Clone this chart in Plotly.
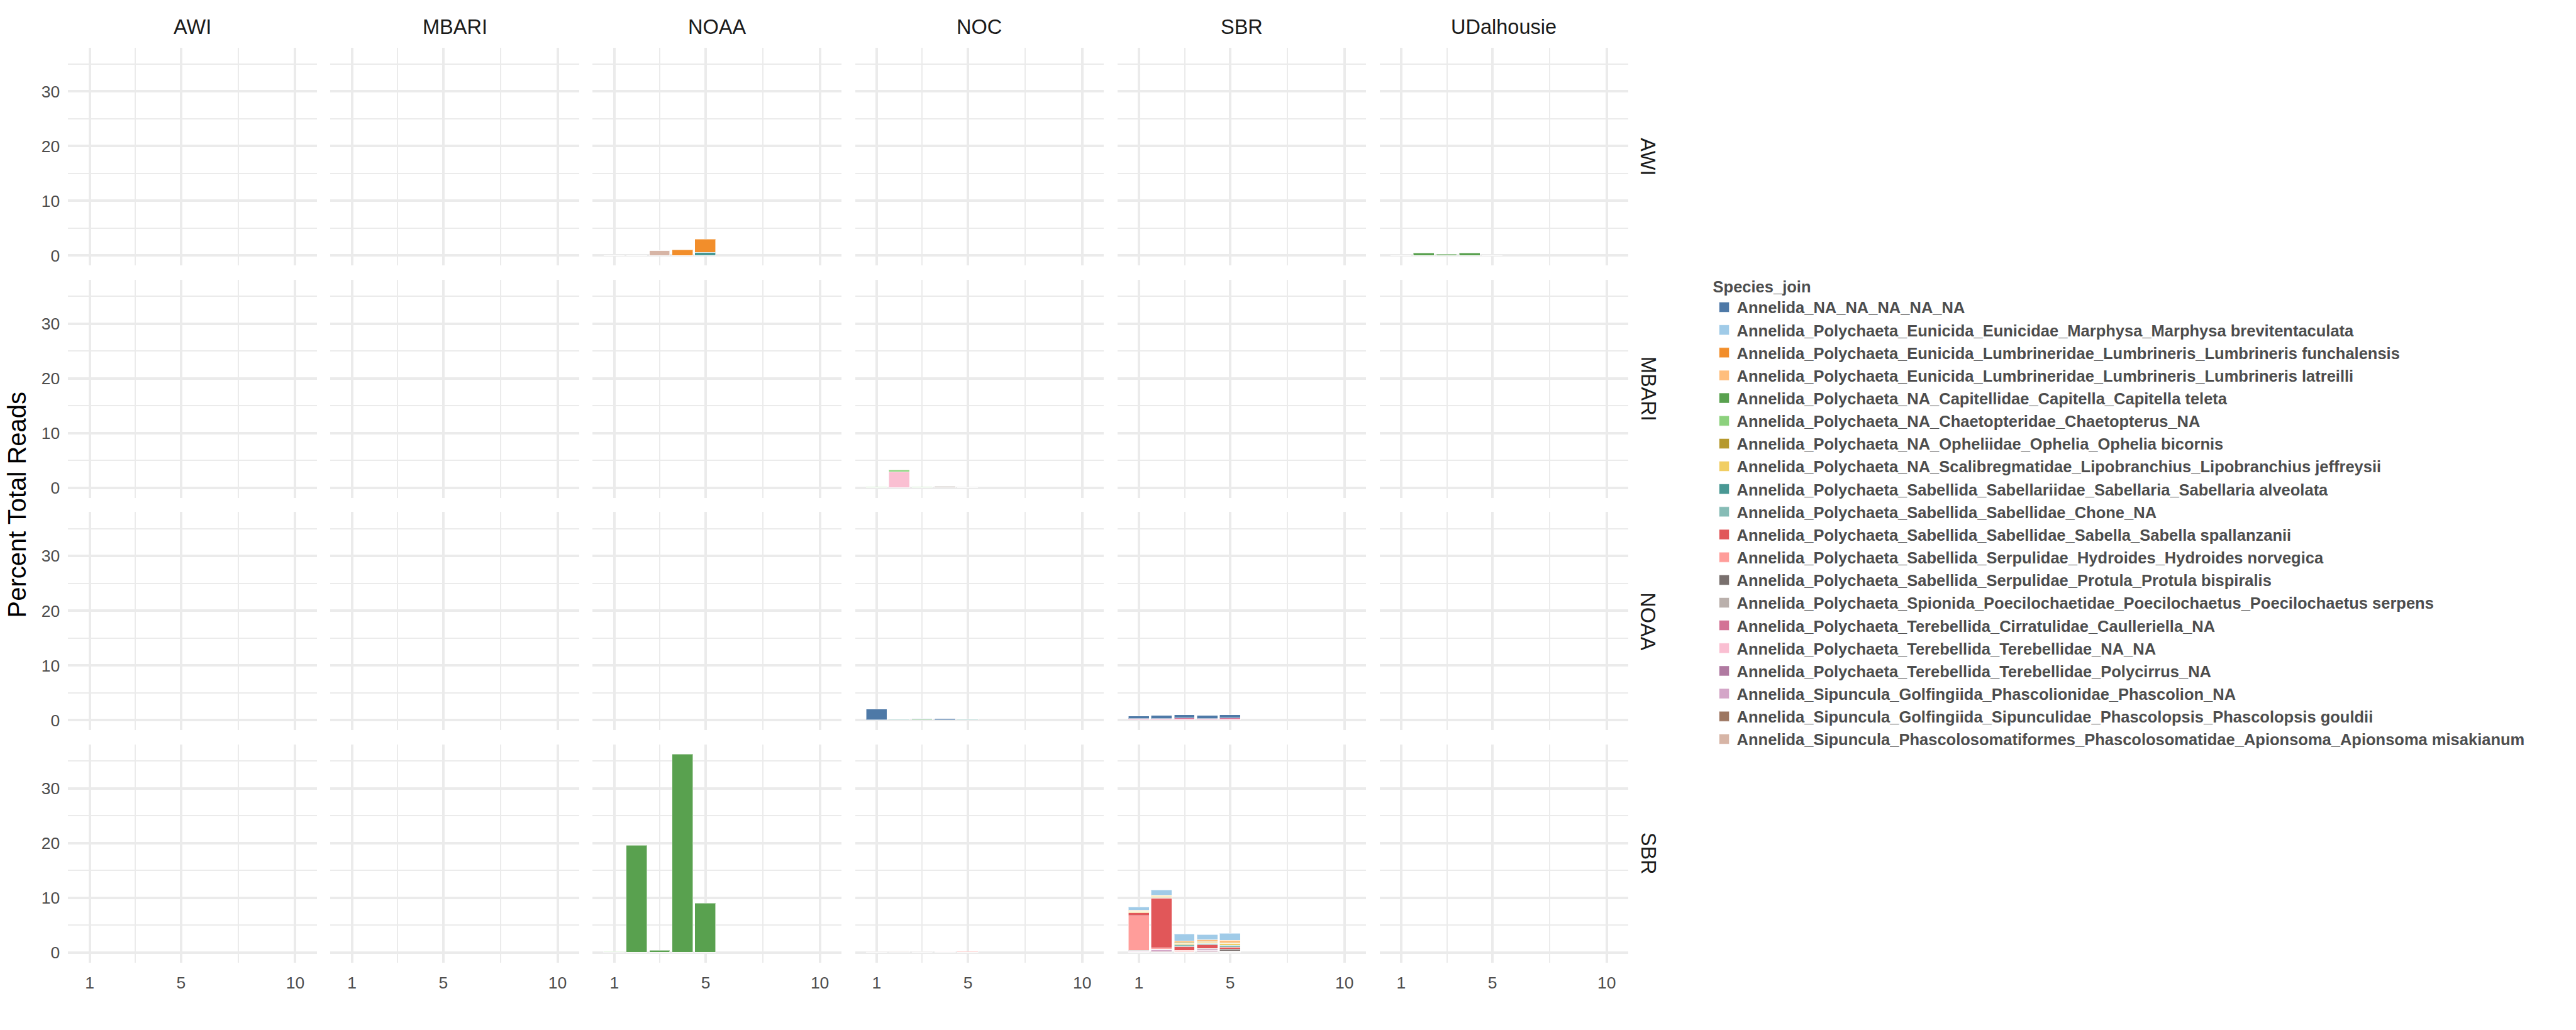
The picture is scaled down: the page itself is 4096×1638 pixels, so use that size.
import plotly.graph_objects as go

# ---------------- data ----------------
species = [
    "Annelida_NA_NA_NA_NA_NA",
    "Annelida_Polychaeta_Eunicida_Eunicidae_Marphysa_Marphysa brevitentaculata",
    "Annelida_Polychaeta_Eunicida_Lumbrineridae_Lumbrineris_Lumbrineris funchalensis",
    "Annelida_Polychaeta_Eunicida_Lumbrineridae_Lumbrineris_Lumbrineris latreilli",
    "Annelida_Polychaeta_NA_Capitellidae_Capitella_Capitella teleta",
    "Annelida_Polychaeta_NA_Chaetopteridae_Chaetopterus_NA",
    "Annelida_Polychaeta_NA_Opheliidae_Ophelia_Ophelia bicornis",
    "Annelida_Polychaeta_NA_Scalibregmatidae_Lipobranchius_Lipobranchius jeffreysii",
    "Annelida_Polychaeta_Sabellida_Sabellariidae_Sabellaria_Sabellaria alveolata",
    "Annelida_Polychaeta_Sabellida_Sabellidae_Chone_NA",
    "Annelida_Polychaeta_Sabellida_Sabellidae_Sabella_Sabella spallanzanii",
    "Annelida_Polychaeta_Sabellida_Serpulidae_Hydroides_Hydroides norvegica",
    "Annelida_Polychaeta_Sabellida_Serpulidae_Protula_Protula bispiralis",
    "Annelida_Polychaeta_Spionida_Poecilochaetidae_Poecilochaetus_Poecilochaetus serpens",
    "Annelida_Polychaeta_Terebellida_Cirratulidae_Caulleriella_NA",
    "Annelida_Polychaeta_Terebellida_Terebellidae_NA_NA",
    "Annelida_Polychaeta_Terebellida_Terebellidae_Polycirrus_NA",
    "Annelida_Sipuncula_Golfingiida_Phascolionidae_Phascolion_NA",
    "Annelida_Sipuncula_Golfingiida_Sipunculidae_Phascolopsis_Phascolopsis gouldii",
    "Annelida_Sipuncula_Phascolosomatiformes_Phascolosomatidae_Apionsoma_Apionsoma misakianum",
]
colors = [
    "#4E79A7", "#A0CBE8", "#F28E2B", "#FFBE7D", "#59A14F",
    "#8CD17D", "#B6992D", "#F1CE63", "#499894", "#86BCB6",
    "#E15759", "#FF9D9A", "#79706E", "#BAB0AC", "#D37295",
    "#FABFD2", "#B07AA1", "#D4A6C8", "#9D7660", "#D7B5A6",
]
col_sites = ["AWI", "MBARI", "NOAA", "NOC", "SBR", "UDalhousie"]
row_sites = ["AWI", "MBARI", "NOAA", "SBR"]
samples = [1, 2, 3, 4, 5]
x_breaks = [1, 5, 10]
x_minor = [3, 7.5]
x_limits = [1, 10]
y_breaks = [0, 10, 20, 30]
y_minor = [5, 15, 25, 35]

# panel values: species index -> percent of reads for samples 1..5
awi_noaa = {19: [0, 0, 0.87, 0, 0], 2: [0, 0, 0, 1.0, 2.36], 8: [0, 0, 0, 0, 0.62]}
awi_udal = {4: [0, 0.42, 0.2, 0.45, 0], 13: [0, 0, 0, 0, 0.03]}
mbari_noc = {5: [0.1, 0.28, 0.1, 0, 0.05], 15: [0, 2.88, 0, 0, 0], 13: [0, 0, 0, 0.25, 0]}
noaa_noc = {0: [1.9, 0, 0.2, 0.15, 0], 5: [0.05, 0, 0.07, 0, 0], 9: [0, 0.08, 0, 0.05, 0.07]}
noaa_sbr = {0: [0.5, 0.55, 0.65, 0.55, 0.65],
            14: [0.12, 0.13, 0.14, 0.12, 0.14],
            15: [0.1, 0.15, 0.15, 0.13, 0.15]}
sbr_noaa = {4: [0, 19.5, 0.3, 36.2, 9.0], 5: [0.1, 0, 0, 0, 0]}
sbr_noc = {13: [0.15, 0.1, 0.15, 0, 0], 19: [0, 0.08, 0, 0, 0],
           15: [0, 0, 0, 0.1, 0], 11: [0, 0, 0, 0, 0.1]}
sbr_sbr = {1: [0.55, 0.83, 1.21, 0.93, 1.28],
           3: [0.14, 0.14, 0.28, 0.31, 0.42],
           6: [0.17, 0.17, 0.2, 0.2, 0.2],
           7: [0.2, 0.17, 0.31, 0.2, 0.28],
           9: [0, 0.14, 0.28, 0.17, 0.42],
           10: [0.52, 9.07, 0.66, 0.73, 0.35],
           11: [6.33, 0.2, 0.24, 0, 0],
           12: [0.1, 0, 0, 0.14, 0.28],
           13: [0, 0, 0, 0, 0.1],
           16: [0.14, 0.1, 0, 0.2, 0],
           17: [0.14, 0.35, 0.14, 0.2, 0],
           18: [0, 0.14, 0, 0.14, 0.14]}

panels = {
    ("AWI", "NOAA"): awi_noaa,
    ("AWI", "UDalhousie"): awi_udal,
    ("MBARI", "NOC"): mbari_noc,
    ("NOAA", "NOC"): noaa_noc,
    ("NOAA", "SBR"): noaa_sbr,
    ("SBR", "NOAA"): sbr_noaa,
    ("SBR", "NOC"): sbr_noc,
    ("SBR", "SBR"): sbr_sbr,
}

# ---------------- geometry (reference pixels, 4500 x 1800) ----------------
REF_W, REF_H = 4500.0, 1800.0
FONT = "Liberation Sans, Arial, sans-serif"
P_LEFT, P_PITCH, P_W = 119.0, 458.2, 434.5
P_TOP, R_PITCH, P_H = 83.0, 406.0, 381.0
BAR_W = 0.9
BAR_EDGE = "rgba(255,255,255,0.55)"

fig = go.Figure()

# axis ranges (ggplot-like 5% expansion)
totals = [sum(v[i] for v in d.values()) for d in panels.values() for i in range(len(samples))]
ymax = max(totals)
y_range = [-0.05 * ymax, 1.05 * ymax]
x_lo, x_hi = x_limits[0] - BAR_W / 2, x_limits[1] + BAR_W / 2
x_pad = 0.05 * (x_hi - x_lo)
x_range = [x_lo - x_pad, x_hi + x_pad]

layout_axes = {}
for r, rs in enumerate(row_sites):
    for c, cs in enumerate(col_sites):
        k = r * len(col_sites) + c + 1
        xa = "x" if k == 1 else f"x{k}"
        ya = "y" if k == 1 else f"y{k}"
        # placeholder so that every facet is drawn, even when empty
        fig.add_trace(go.Scatter(x=[], y=[], xaxis=xa, yaxis=ya, mode="markers",
                                 showlegend=False, hoverinfo="skip"))
        data = panels.get((rs, cs), {})
        for si in sorted(data.keys(), reverse=True):
            fig.add_trace(go.Bar(
                x=samples, y=data[si], xaxis=xa, yaxis=ya,
                width=BAR_W, name=species[si], legendgroup=species[si],
                showlegend=False,
                marker=dict(color=colors[si], line=dict(color=BAR_EDGE, width=1)),
            ))
        x0 = (P_LEFT + c * P_PITCH) / REF_W
        x1 = (P_LEFT + c * P_PITCH + P_W) / REF_W
        yt = 1 - (P_TOP + r * R_PITCH) / REF_H
        yb = 1 - (P_TOP + r * R_PITCH + P_H) / REF_H
        grid = dict(showgrid=True, gridcolor="#EBEBEB", zeroline=False,
                    showline=False, ticks="", fixedrange=True)
        layout_axes["xaxis" if k == 1 else f"xaxis{k}"] = dict(
            domain=[x0, x1], anchor=ya, range=x_range,
            tickmode="array", tickvals=x_breaks, ticktext=[str(v) for v in x_breaks],
            gridwidth=3.6, showticklabels=(r == len(row_sites) - 1),
            tickfont=dict(family=FONT, size=26.5, color="#4D4D4D"),
            ticklabelstandoff=14,
            minor=dict(tickmode="array", tickvals=x_minor, showgrid=True,
                       gridcolor="#EBEBEB", gridwidth=1.8),
            **grid)
        layout_axes["yaxis" if k == 1 else f"yaxis{k}"] = dict(
            domain=[yb, yt], anchor=xa, range=y_range,
            tickmode="array", tickvals=y_breaks, ticktext=[str(v) for v in y_breaks],
            gridwidth=3.6, showticklabels=(c == 0),
            tickfont=dict(family=FONT, size=26.5, color="#4D4D4D"),
            ticklabelstandoff=12,
            minor=dict(tickmode="array", tickvals=y_minor, showgrid=True,
                       gridcolor="#EBEBEB", gridwidth=1.8),
            **grid)

# legend keys (one per species, in factor order)
for si, sp in enumerate(species):
    fig.add_trace(go.Scatter(
        x=[None], y=[None], mode="markers", name=sp, legendgroup=sp,
        legendrank=si + 1, showlegend=True, hoverinfo="skip",
        marker=dict(symbol="square", size=16, color=colors[si],
                    line=dict(color=BAR_EDGE, width=1)),
    ))

annotations = []
strip_font = dict(family=FONT, size=32.5, color="#1A1A1A")
for c, cs in enumerate(col_sites):
    cx = (P_LEFT + c * P_PITCH + P_W / 2) / REF_W
    annotations.append(dict(text=cs, x=cx, y=1 - 47 / REF_H, xref="paper", yref="paper",
                            xanchor="center", yanchor="middle", showarrow=False,
                            font=strip_font))
for r, rs in enumerate(row_sites):
    cy = 1 - (P_TOP + r * R_PITCH + P_H / 2) / REF_H
    annotations.append(dict(text=rs, x=2879 / REF_W, y=cy, xref="paper", yref="paper",
                            xanchor="center", yanchor="middle", showarrow=False,
                            textangle=90, font=strip_font))
annotations.append(dict(text="Percent Total Reads", x=30 / REF_W,
                        y=1 - (P_TOP + (3 * R_PITCH + P_H) / 2) / REF_H,
                        xref="paper", yref="paper", xanchor="center", yanchor="middle",
                        showarrow=False, textangle=-90,
                        font=dict(family=FONT, size=40, color="#000000")))

fig.update_layout(
    width=4096, height=1638, autosize=False,
    margin=dict(l=0, r=0, t=0, b=0),
    paper_bgcolor="white", plot_bgcolor="white",
    barmode="stack", bargap=0,
    annotations=annotations,
    legend=dict(
        x=2990 / REF_W, xanchor="left", y=1 - 475 / REF_H, yanchor="top",
        traceorder="normal", itemsizing="trace",
        title=dict(text="Species_join",
                   font=dict(family=FONT, size=25.5, color="#4D4D4D", weight="bold")),
        font=dict(family=FONT, size=25.5, color="#4D4D4D", weight="bold"),
        bgcolor="rgba(0,0,0,0)", borderwidth=0,
    ),
    **layout_axes,
)

fig.write_html("out.html", config={"displayModeBar": False})
